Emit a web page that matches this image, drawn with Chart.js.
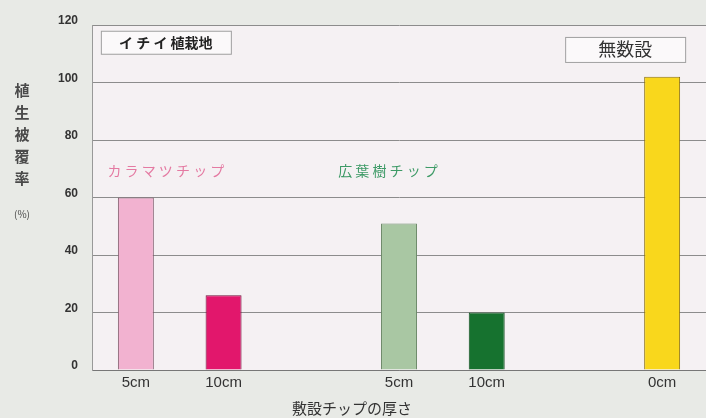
<!DOCTYPE html>
<html><head><meta charset="utf-8">
<script src="https://cdn.jsdelivr.net/npm/chart.js@4"></script>
<style>html,body{margin:0;padding:0;background:#e8eae6;}#wrap{width:706px;height:418px;}</style>
</head><body><div id="wrap"><canvas id="c" width="706" height="418"></canvas></div>
<script>
const categories = ['5cm', '10cm', '', '5cm', '10cm', '', '0cm'];
const coverValues = [60, 26, null, 51, 20, null, 102];
const yTicks = [0, 20, 40, 60, 80, 100, 120];
const barColors = ['#f2b2d0', '#e2176c', '#ffffff', '#a9c7a3', '#16722f', '#ffffff', '#f9d71c'];
const barBorders = ['#7e5a6a', '#6e1038', '#ffffff', '#6e8a6a', '#0d4a1c', '#ffffff', '#8a7010'];
const yTitleChars = ['植', '生', '被', '覆', '率'];
const xTitle = '敷設チップの厚さ';

const decor = {
  id: 'decor',
  beforeDraw(chart) {
    const {ctx, chartArea: a} = chart;
    ctx.save();
    ctx.fillStyle = '#e8eae6';
    ctx.fillRect(0, 0, chart.width, chart.height);
    ctx.fillStyle = '#f5f1f3';
    ctx.fillRect(a.left, a.top, a.right - a.left, a.bottom - a.top);
    ctx.restore();
  },
  afterDraw(chart) {
    const {ctx, chartArea: a, scales: {x, y}} = chart;
    ctx.save();
    ctx.textAlign = 'center';
    ctx.textBaseline = 'middle';
    // y title
    ctx.fillStyle = '#4a4a4a';
    ctx.font = 'bold 15px "Noto Sans CJK JP"';
    yTitleChars.forEach((ch, i) => ctx.fillText(ch, 22, 90 + i * 22));
    ctx.font = '10px "Noto Sans CJK JP"';
    ctx.fillText('(%)', 22, 214);
    // x title
    ctx.font = '15px "Noto Sans CJK JP"';
    ctx.fillStyle = '#333';
    ctx.fillText(xTitle, 352, 408);
    // boxes
    function box(cx, cy, w, h, text, font, color) {
      ctx.fillStyle = 'rgba(255,255,255,0.6)';
      ctx.fillRect(cx - w / 2, cy - h / 2, w, h);
      ctx.strokeStyle = '#a0a0a0';
      ctx.lineWidth = 1;
      ctx.strokeRect(cx - w / 2 + 0.5, cy - h / 2 + 0.5, w, h);
      ctx.font = font;
      ctx.fillStyle = color;
      ctx.fillText(text, cx, cy);
    }
    box(x.getPixelForValue(0) + 30, y.getPixelForValue(114), 130, 23, 'イ チ イ 植栽地', 'bold 14px "Noto Sans CJK JP"', '#222');
    box(x.getPixelForValue(6) - 37, y.getPixelForValue(111.5), 120, 25, '無数設', '18px "Noto Sans CJK JP"', '#333');
    ctx.font = '14px "Noto Sans CJK JP"';
    ctx.fillStyle = '#e47aa2';
    ctx.fillText('カ ラ マ ツ チ ッ プ', x.getPixelForValue(0) + 30, y.getPixelForValue(69.5));
    ctx.fillStyle = '#3d9a66';
    ctx.fillText('広 葉 樹 チ ッ プ', x.getPixelForValue(3) - 11, y.getPixelForValue(69.5));
    ctx.restore();
  }
};

new Chart(document.getElementById('c'), {
  type: 'bar',
  data: {
    labels: categories,
    datasets: [{
      data: coverValues,
      backgroundColor: barColors,
      borderColor: barBorders,
      borderWidth: 1,
      barPercentage: 0.82,
      categoryPercentage: 0.5
    }]
  },
  options: {
    responsive: false,
    animation: false,
    devicePixelRatio: 1,
    layout: {padding: {top: 25, right: 0, left: 0, bottom: 0}},
    plugins: {legend: {display: false}, tooltip: {enabled: false}},
    scales: {
      x: {
        grid: {display: false, drawTicks: false},
        border: {color: '#777', width: 1},
        ticks: {color: '#333', font: {family: 'Liberation Sans', size: 15}, padding: 4, maxRotation: 0, autoSkip: false},
        afterFit(s) { s.height = 48; }
      },
      y: {
        min: 0, max: 120,
        afterBuildTicks(s) { s.ticks = yTicks.map(v => ({value: v})); },
        grid: {color: '#8c8c8c', lineWidth: 1, drawTicks: false},
        border: {color: '#999', width: 1},
        ticks: {color: '#333', font: {family: 'Liberation Sans', size: 12, weight: 'bold'}, padding: 14, labelOffset: -4},
        afterFit(s) { s.width = 92; }
      }
    }
  },
  plugins: [decor]
});
</script></body></html>
